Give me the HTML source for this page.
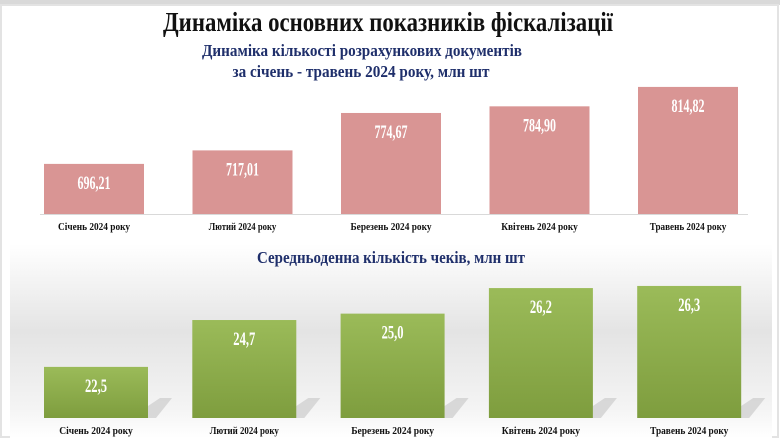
<!DOCTYPE html>
<html><head><meta charset="utf-8"><style>
html,body{margin:0;padding:0;background:#fff;}
svg{display:block;font-family:"Liberation Serif",serif;}
</style></head><body>
<svg width="780" height="438" viewBox="0 0 780 438">
<defs>
<linearGradient id="bgGrad" x1="0" y1="0" x2="0" y2="1">
<stop offset="0" stop-color="#ffffff"/><stop offset="0.45" stop-color="#e4e4e4"/><stop offset="0.85" stop-color="#f4f4f4"/><stop offset="1" stop-color="#ffffff"/>
</linearGradient>
<linearGradient id="greenGrad" x1="0" y1="0" x2="0" y2="1">
<stop offset="0" stop-color="#9bbb59"/><stop offset="1" stop-color="#7e9d3e"/>
</linearGradient>
</defs>
<rect x="0" y="0" width="780" height="438" fill="#fff"/>
<rect x="0" y="0" width="780" height="5" fill="#d9d9d9"/>
<rect x="1" y="5" width="777" height="432" fill="none" stroke="#e3e3e3" stroke-width="2"/>
<rect x="10" y="244" width="762" height="194" fill="url(#bgGrad)"/>
<text x="388" y="31" text-anchor="middle" font-size="27" font-weight="bold" fill="#111" textLength="450" lengthAdjust="spacingAndGlyphs">Динаміка основних показників фіскалізації</text>
<text x="362" y="56" text-anchor="middle" font-size="17" font-weight="bold" fill="#1f2f6b" textLength="320" lengthAdjust="spacingAndGlyphs">Динаміка кількості розрахункових документів</text>
<text x="361" y="77" text-anchor="middle" font-size="17" font-weight="bold" fill="#1f2f6b" textLength="257" lengthAdjust="spacingAndGlyphs">за січень - травень 2024 року, млн шт</text>
<line x1="40" y1="214.5" x2="748" y2="214.5" stroke="#d9d9d9"/>
<text x="391" y="263" text-anchor="middle" font-size="17" font-weight="bold" fill="#1f2f6b" textLength="268" lengthAdjust="spacingAndGlyphs">Середньоденна кількість чеків, млн шт</text>
<g id="top"></g><g id="bottom"></g>
</svg>
<script>
const categories=["Січень 2024 року","Лютий 2024 року","Березень 2024 року","Квітень 2024 року","Травень 2024 року"];
const categories2=["Січень 2024 року","Лютий  2024 року","Березень 2024 року","Квітень 2024 року","Травень 2024 року"];
const docValues=[696.21,717.01,774.67,784.90,814.82];
const receiptValues=[22.5,24.7,25.0,26.2,26.3];
const NS="http://www.w3.org/2000/svg";
function fmt(v,d){return v.toFixed(d).replace('.',',');}
function mk(tag,attrs,parent){const e=document.createElementNS(NS,tag);for(const k in attrs)e.setAttribute(k,attrs[k]);parent.appendChild(e);return e;}
const yTop=v=>214-(v-619)*0.649;
const xTop=i=>44+i*148.5;
const gT=document.getElementById('top');
docValues.forEach((v,i)=>{
 const x=xTop(i),y=yTop(v);
 const r=mk('rect',{x:x,y:y,width:100,height:214-y,fill:'#d99594'},gT);
 
 
 const t=mk('text',{x:x+50,y:y+25,'text-anchor':'middle','font-size':19,'font-weight':'bold',fill:'#fff',textLength:33,lengthAdjust:'spacingAndGlyphs'},gT);
 t.textContent=fmt(v,2);
 
 
 const c=mk('text',{x:x+50,y:230,'text-anchor':'middle','font-size':10,'font-weight':'bold',fill:'#111',textLength:categories[i].length*4.5,lengthAdjust:'spacingAndGlyphs'},gT);
 c.textContent=categories[i];
 
 
});
const yBot=v=>418-(v-20.1)*21.3;
const xBot=i=>44+i*148.3;
const gB=document.getElementById('bottom');
receiptValues.forEach((v,i)=>{
 const x=xBot(i),y=yBot(v);
 const s=mk('polygon',{points:`${x+104},${418} ${x+104},${406} ${x+116},${398} ${x+128},${398} ${x+112},${418}`,fill:'#cccccc',opacity:0.7},gB);
 
 
 const r=mk('rect',{x:x,y:y,width:104,height:418-y,fill:'url(#greenGrad)'},gB);
 
 
 const t=mk('text',{x:x+52,y:y+25,'text-anchor':'middle','font-size':19,'font-weight':'bold',fill:'#fff',textLength:22,lengthAdjust:'spacingAndGlyphs'},gB);
 t.textContent=fmt(v,1);
 
 
 const c=mk('text',{x:x+52,y:434,'text-anchor':'middle','font-size':10,'font-weight':'bold',fill:'#111',textLength:categories[i].length*4.6,lengthAdjust:'spacingAndGlyphs'},gB);
 c.textContent=categories2[i];
 
 
});
</script>
</body></html>
